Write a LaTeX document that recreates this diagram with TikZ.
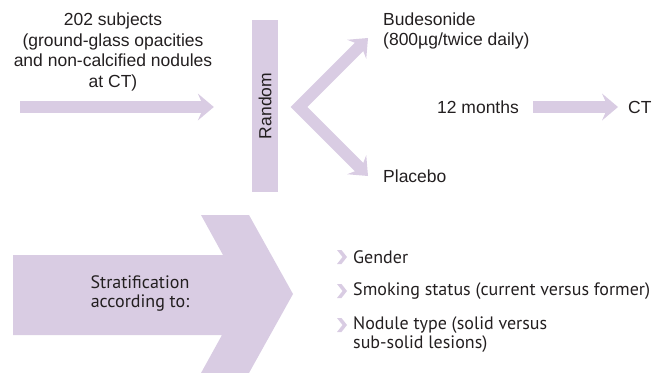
\documentclass[tikz,border=0pt]{standalone}
\usepackage{fontspec}
\setmainfont{Liberation Sans}
\newfontfamily\lowfont{PT Sans}
\usetikzlibrary{arrows.meta}
\definecolor{lav}{HTML}{D9CCE3}
\definecolor{ink}{HTML}{231F20}
\begin{document}
\begin{tikzpicture}[x=1pt,y=-1pt,
  every node/.style={text=ink, inner sep=0pt},
  toptext/.style={font=\fontsize{17.5}{20.5}\selectfont},
  lowtext/.style={font=\lowfont\fontsize{18}{19}\selectfont},
  flow/.style={draw=lav, line width=12pt,
    -{Stealth[length=16pt,width=27pt,inset=6pt,line width=0pt]}},
  vflow/.style={draw=lav, line width=12pt, line join=miter,
    {Stealth[length=16pt,width=27pt,inset=6pt,line width=0pt]}-{Stealth[length=16pt,width=27pt,inset=6pt,line width=0pt]}},
  barbox/.style={fill=lav, rotate=90, minimum width=172pt, minimum height=26pt},
  chev/.pic={\fill[lav] (-16,-7) -- (-11.5,-7) -- (-6,0) -- (-11.5,7) -- (-16,7) -- (-10.5,0) -- cycle;}
]
\useasboundingbox (0,0) rectangle (663,372);

% top row
\node[toptext, align=center] (subj) at (113,52)
  {202 subjects\\(ground-glass opacities\\and non-calcified nodules\\at CT)};
\coordinate (start) at (20,107);
\node[barbox, toptext] (rand) at (265,106) {Random};
\draw[flow] (start) -- ([xshift=-38pt]rand.north |- start);

\node[toptext, align=left, anchor=west] (bud) at (383,31)
  {Budesonide\\(800µg/twice daily)};
\node[toptext, anchor=west] (plac) at (383,176) {Placebo};
\coordinate (vtx) at (299,107);
\coordinate (budtip) at (368,38);
\coordinate (plactip) at (368,176);
\draw[vflow] (budtip) -- (vtx) -- (plactip);

\node[toptext] (m12) at (478,107) {12 months};
\node[toptext, anchor=west] (ct) at (628,107) {CT};
\draw[flow] ([xshift=14pt]m12.east) -- ([xshift=-10pt]ct.west);

% bottom: big arrow
\fill[lav] (13,255) -- (223,255) -- (201,215) -- (249,215) -- (293,294)
  -- (249,373) -- (201,373) -- (222,335) -- (13,335) -- cycle;
\node[lowtext, align=center] (strat) at (140,293)
  {Stratification\\according to:};

\node[lowtext, anchor=west] (gen) at (353,257) {Gender};
\node[lowtext, anchor=west] (smk) at (353,291) {Smoking status (current versus former)};
\node[lowtext, align=left, anchor=west] (nod) at (353,334.5)
  {Nodule type (solid versus\\sub-solid lesions)};
\pic at (gen.west) {chev};
\pic at (smk.west) {chev};
\pic at (353,325) {chev};
\end{tikzpicture}
\end{document}
